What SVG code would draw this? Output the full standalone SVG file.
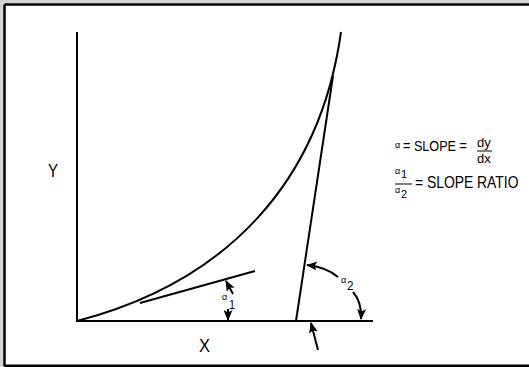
<svg xmlns="http://www.w3.org/2000/svg" width="529" height="367" viewBox="0 0 529 367">
<style>
.ln{fill:none;stroke:#000;stroke-width:2;stroke-linecap:butt}
.ar{fill:none;stroke:#000;stroke-width:2}
.t{font-family:"Liberation Sans",Arial,sans-serif;fill:#000}
</style>
<defs>
<marker id="ah" markerUnits="userSpaceOnUse" markerWidth="11" markerHeight="9" refX="10" refY="4.5" orient="auto">
<path d="M0,0 L11,4.5 L0,9 L2.5,4.5 Z" fill="#000"/>
</marker>
</defs>
<rect x="0" y="0" width="529" height="367" fill="#d4d4d4"/>
<rect x="3.5" y="3.5" width="530" height="362.5" fill="#fff"/>
<g id="frame" stroke="#000" stroke-width="2.5" fill="none">
<line x1="4.5" y1="4.5" x2="529" y2="4.5"/>
<line x1="4.5" y1="4.5" x2="4.5" y2="366"/>
<line x1="4.5" y1="365.8" x2="529" y2="365.8"/>
</g>
<g id="axes">
<line class="ln" x1="77" y1="32" x2="77" y2="321"/>
<line class="ln" x1="76" y1="321" x2="373" y2="321"/>
</g>
<g id="curve">
<path class="ln" d="M77,321 C227,282 320,182 341,32"/>
</g>
<g id="tangents">
<line class="ln" x1="140" y1="303" x2="255" y2="271"/>
<line class="ln" x1="296" y1="321" x2="333" y2="76"/>
</g>
<g id="connectors">
<line class="ar" x1="233" y1="294" x2="226" y2="281" marker-end="url(#ah)"/>
<line class="ar" x1="228" y1="309" x2="228" y2="320" marker-end="url(#ah)"/>
<path class="ar" d="M338,277 Q326,267 307,265" marker-end="url(#ah)"/>
<path class="ar" d="M353,292 Q362,302 361,319" marker-end="url(#ah)"/>
<line class="ar" x1="318" y1="350" x2="311" y2="323" marker-end="url(#ah)"/>
</g>
<g id="labels">
<text class="t" font-size="19" transform="translate(48,177) scale(0.79,1)">Y</text>
<text class="t" font-size="19" transform="translate(199,352) scale(0.87,1)">X</text>
<text class="t" x="222" y="300" font-size="9">α</text>
<text class="t" font-size="13" transform="translate(229,309) scale(0.83,1)">1</text>
<text class="t" x="341" y="283" font-size="9">α</text>
<text class="t" font-size="13" transform="translate(347,290) scale(0.9,1)">2</text>
</g>
<g id="formula">
<text class="t" x="395" y="148" font-size="9">α</text>
<text class="t" font-size="15.5" transform="translate(403,151) scale(0.816,1)">= SLOPE =</text>
<text class="t" x="477" y="147" font-size="13">dy</text>
<line x1="477" y1="151" x2="492" y2="151" stroke="#000" stroke-width="1"/>
<text class="t" x="477" y="163" font-size="13">dx</text>
<text class="t" x="395" y="174" font-size="9">α</text>
<text class="t" x="401" y="178" font-size="11">1</text>
<line x1="395" y1="184" x2="412" y2="184" stroke="#000" stroke-width="1"/>
<text class="t" x="395" y="193" font-size="9">α</text>
<text class="t" x="401" y="198" font-size="11">2</text>
<text class="t" font-size="16" transform="translate(415,188) scale(0.868,1)">= SLOPE RATIO</text>
</g>
</svg>
